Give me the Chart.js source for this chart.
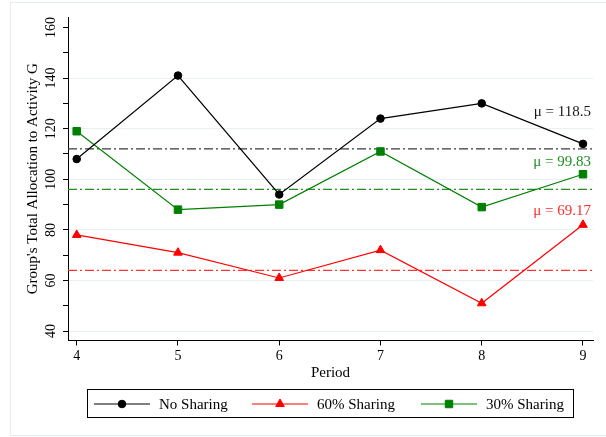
<!DOCTYPE html>
<html>
<head>
<meta charset="utf-8">
<script src="https://cdn.jsdelivr.net/npm/chart.js@4.4.1/dist/chart.umd.min.js"></script>
<style>
  html, body { margin: 0; padding: 0; background: #ffffff; }
  canvas { display: block; }
</style>
</head>
<body>
<canvas id="chart" width="606" height="437"></canvas>
<script>
// ---- data ----
const periods = [4, 5, 6, 7, 8, 9];
const noSharing = [108, 141, 94, 124, 130, 114];
const sharing60 = [78, 71, 61, 72, 51, 82];
const sharing30 = [119, 88, 90, 111, 89, 102];
const seriesNames = ['No Sharing', '60% Sharing', '30% Sharing'];
// horizontal reference levels, one per series (same order as seriesNames)
const referenceLevels = [112, 64, 96];
// value at which each series' mean annotation is centred
const meanLabelAt = [126.5, 87.5, 107];
// axis ticks
const xTicks = [4, 5, 6, 7, 8, 9];
const yTicks = [40, 50, 60, 70, 80, 90, 100, 110, 120, 130, 140, 150, 160];
const yLabels = [40, 60, 80, 100, 120, 140, 160];
const yGridLines = [40, 60, 80, 100, 120, 140];

// ---- styling ----
const serif = "'Liberation Serif', 'Times New Roman', Times, serif";
const X_MIN = 3.914, X_MAX = 9.099;
const Y_MIN = 36.28, Y_MAX = 164.15;

const seriesStyle = [
  { values: noSharing, color: '#000000', refColor: '#3a3a3a', noteColor: '#1a1a1a', marker: 'circle',   radius: 3.8 },
  { values: sharing60, color: '#ff0000', refColor: '#ff3535', noteColor: '#ff2a2a', marker: 'triangle', radius: 5.0 },
  { values: sharing30, color: '#008000', refColor: '#228b22', noteColor: '#1f8f1f', marker: 'rect',     radius: 5.3 }
];

function seriesMean(values) {
  const m = values.reduce((a, b) => a + b, 0) / values.length;
  return Math.round(m * 100) / 100;
}

const lineSets = seriesStyle.map((s, i) => ({
  label: seriesNames[i],
  data: periods.map((p, k) => ({ x: p, y: s.values[k] })),
  borderColor: s.color,
  backgroundColor: s.color,
  borderWidth: 1.2,
  pointStyle: s.marker,
  pointRadius: s.radius,
  pointBorderWidth: 1,
  pointBackgroundColor: s.color,
  pointBorderColor: s.color,
  tension: 0,
  clip: false
}));

const refSets = seriesStyle.map((s, i) => ({
  label: seriesNames[i] + ' reference',
  data: [{ x: X_MIN, y: referenceLevels[i] }, { x: X_MAX, y: referenceLevels[i] }],
  borderColor: s.refColor,
  borderWidth: 1.2,
  borderDash: [9, 3, 2, 3],
  pointRadius: 0,
  tension: 0
}));

// ---- markers used in the key ----
function drawMarker(ctx, style, x, y, r, color) {
  ctx.save();
  ctx.fillStyle = color;
  ctx.strokeStyle = color;
  ctx.lineWidth = 1;
  ctx.beginPath();
  if (style === 'circle') {
    ctx.arc(x, y, r, 0, Math.PI * 2);
  } else if (style === 'triangle') {
    for (let k = 0; k < 3; k++) {
      const a = -Math.PI / 2 + k * 2 * Math.PI / 3;
      const px = x + Math.cos(a) * r, py = y + Math.sin(a) * r;
      if (k === 0) ctx.moveTo(px, py); else ctx.lineTo(px, py);
    }
    ctx.closePath();
  } else {
    const h = r * Math.SQRT1_2;
    ctx.rect(x - h, y - h, 2 * h, 2 * h);
  }
  ctx.fill();
  ctx.stroke();
  ctx.restore();
}

// faint outer frame around the whole graph
const framePlugin = {
  id: 'outerFrame',
  beforeDraw(chart) {
    const { ctx } = chart;
    ctx.save();
    ctx.fillStyle = '#ffffff';
    ctx.fillRect(0, 0, chart.width, chart.height);
    ctx.strokeStyle = '#e4edef';
    ctx.lineWidth = 1;
    ctx.strokeRect(10.5, 2.5, 600, 433);
    ctx.restore();
  }
};

// mean annotations at the right edge of the plot
const meanNotePlugin = {
  id: 'meanNotes',
  afterDatasetsDraw(chart) {
    const { ctx, chartArea } = chart;
    const yScale = chart.scales.y;
    ctx.save();
    ctx.font = '15px ' + serif;
    ctx.textAlign = 'right';
    ctx.textBaseline = 'middle';
    seriesStyle.forEach((s, i) => {
      ctx.fillStyle = s.noteColor;
      ctx.fillText('\u03bc = ' + seriesMean(s.values), chartArea.right - 2, yScale.getPixelForValue(meanLabelAt[i]));
    });
    ctx.restore();
  }
};

// boxed key below the plot
const keyPlugin = {
  id: 'seriesKey',
  afterDraw(chart) {
    const { ctx } = chart;
    const box = { left: 87.5, top: 389.5, right: 573.5, bottom: 417.5 };
    const cy = 404;
    const slots = [94, 252, 421];
    ctx.save();
    ctx.fillStyle = '#ffffff';
    ctx.fillRect(box.left, box.top, box.right - box.left, box.bottom - box.top);
    ctx.strokeStyle = '#000000';
    ctx.lineWidth = 1;
    ctx.strokeRect(box.left, box.top, box.right - box.left, box.bottom - box.top);
    ctx.font = '15px ' + serif;
    ctx.textAlign = 'left';
    ctx.textBaseline = 'middle';
    seriesStyle.forEach((s, i) => {
      const x0 = slots[i];
      ctx.strokeStyle = s.color;
      ctx.lineWidth = 1.2;
      ctx.beginPath();
      ctx.moveTo(x0, cy);
      ctx.lineTo(x0 + 56, cy);
      ctx.stroke();
      drawMarker(ctx, s.marker, x0 + 28, cy, s.radius, s.color);
      ctx.fillStyle = '#000000';
      ctx.fillText(seriesNames[i], x0 + 65, cy + 1);
    });
    ctx.restore();
  }
};

new Chart(document.getElementById('chart'), {
  type: 'line',
  data: { datasets: [...lineSets, ...refSets] },
  options: {
    responsive: false,
    devicePixelRatio: 1,
    animation: false,
    layout: { padding: { left: 0, right: 13, top: 17, bottom: 52 } },
    plugins: {
      legend: { display: false },
      tooltip: { enabled: false }
    },
    scales: {
      x: {
        type: 'linear',
        min: X_MIN,
        max: X_MAX,
        afterBuildTicks: (scale) => { scale.ticks = xTicks.map(v => ({ value: v })); },
        afterFit: (scale) => { scale.height = 44.5; },
        ticks: {
          color: '#000000',
          font: { family: serif, size: 14 },
          padding: 2,
          maxRotation: 0,
          autoSkip: false,
          callback: (v) => String(v)
        },
        grid: { drawOnChartArea: false, drawTicks: true, tickLength: 5, tickColor: '#000000' },
        border: { display: true, color: '#000000', width: 1 },
        title: {
          display: true,
          text: 'Period',
          color: '#000000',
          font: { family: serif, size: 15 },
          padding: { top: 0, bottom: 3 }
        }
      },
      y: {
        type: 'linear',
        min: Y_MIN,
        max: Y_MAX,
        afterBuildTicks: (scale) => { scale.ticks = yTicks.map(v => ({ value: v })); },
        afterFit: (scale) => { scale.width = 68; },
        ticks: {
          color: '#000000',
          font: { family: serif, size: 14 },
          minRotation: 90,
          maxRotation: 90,
          crossAlign: 'center',
          padding: 1,
          autoSkip: false,
          callback: (v) => yLabels.includes(v) ? String(v) : ''
        },
        grid: {
          color: (c) => (c.tick && yGridLines.includes(c.tick.value)) ? '#e8f0f1' : 'rgba(0,0,0,0)',
          lineWidth: 1,
          drawTicks: true,
          tickLength: 5,
          tickColor: '#000000'
        },
        border: { display: true, color: '#000000', width: 1 },
        title: {
          display: true,
          text: "Group's Total Allocation to Activity G",
          color: '#000000',
          font: { family: serif, size: 15 },
          padding: { top: 24, bottom: 0 }
        }
      }
    }
  },
  plugins: [framePlugin, meanNotePlugin, keyPlugin]
});
</script>
</body>
</html>
